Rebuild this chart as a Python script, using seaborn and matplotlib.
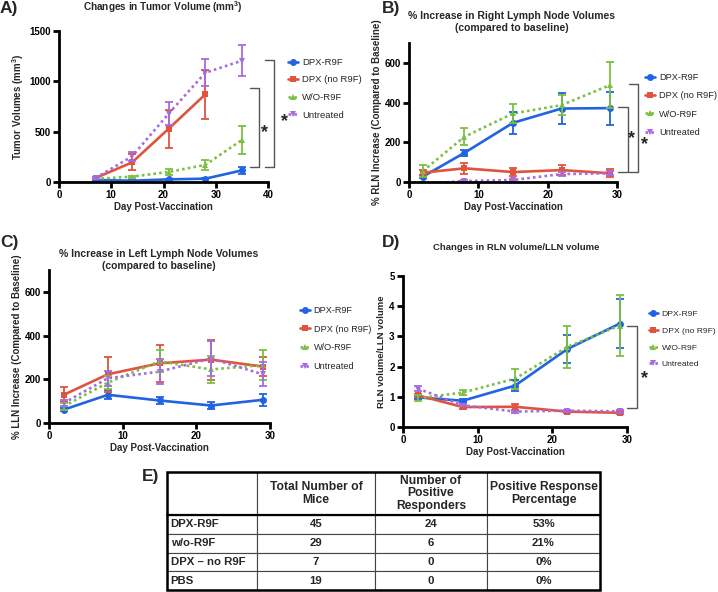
"""Tumor volume and lymph node volume panels with response table"""

import numpy as np
import pandas as pd
import matplotlib
matplotlib.use('Agg')
import matplotlib.pyplot as plt
from matplotlib.table import Table
from matplotlib.patches import Rectangle
import seaborn as sns

sns.set_style('ticks')
plt.rcParams['font.family'] = ['Liberation Sans', 'DejaVu Sans']
plt.rcParams['font.weight'] = 'bold'
plt.rcParams['axes.labelweight'] = 'bold'
plt.rcParams['mathtext.default'] = 'regular'

# ---- data ----
groups = ['DPX-R9F', 'DPX (no R9F)', 'W/O-R9F', 'Untreated']

days_a = [7, 14, 21, 28, 35]
tumor_mean = {
    'DPX-R9F':      [20, 13, 26, 33, 115],
    'DPX (no R9F)': [40, 195, 530, 870, None],
    'W/O-R9F':      [32, 53, 100, 170, 417],
    'Untreated':    [40, 255, 680, 1085, 1205],
}
tumor_err = {
    'DPX-R9F':      [8, 6, 8, 8, 35],
    'DPX (no R9F)': [10, 80, 190, 245, None],
    'W/O-R9F':      [6, 10, 33, 50, 140],
    'Untreated':    [8, 45, 118, 135, 155],
}

days_ln = [2, 8, 15, 22, 29]
rln_mean = {
    'DPX-R9F':      [27, 147, 298, 370, 372],
    'DPX (no R9F)': [47, 69, 50, 60, 44],
    'W/O-R9F':      [55, 228, 345, 387, 488],
    'Untreated':    [-10, 5, 10, 40, 44],
}
rln_err = {
    'DPX-R9F':      [8, 15, 57, 77, 83],
    'DPX (no R9F)': [12, 28, 20, 27, 20],
    'W/O-R9F':      [30, 42, 50, 50, 117],
    'Untreated':    [5, 5, 5, 8, 10],
}

lln_mean = {
    'DPX-R9F':      [61, 129, 103, 80, 106],
    'DPX (no R9F)': [129, 223, 273, 290, 258],
    'W/O-R9F':      [76, 185, 282, 245, 265],
    'Untreated':    [91, 205, 235, 295, 223],
}
lln_err = {
    'DPX-R9F':      [6, 20, 18, 18, 28],
    'DPX (no R9F)': [35, 80, 85, 92, 45],
    'W/O-R9F':      [15, 30, 50, 62, 68],
    'Untreated':    [15, 35, 58, 80, 55],
}

ratio_mean = {
    'DPX-R9F':      [0.98, 0.87, 1.37, 2.58, 3.42],
    'DPX (no R9F)': [1.05, 0.66, 0.67, 0.51, 0.47],
    'W/O-R9F':      [0.95, 1.14, 1.60, 2.65, 3.36],
    'Untreated':    [1.27, 0.72, 0.51, 0.54, 0.52],
}
ratio_err = {
    'DPX-R9F':      [0.05, 0.05, 0.18, 0.47, 0.82],
    'DPX (no R9F)': [0.05, 0.05, 0.10, 0.03, 0.05],
    'W/O-R9F':      [0.10, 0.07, 0.33, 0.68, 1.00],
    'Untreated':    [0.08, 0.04, 0.03, 0.03, 0.05],
}

table_rows = ['DPX-R9F', 'w/o-R9F', 'DPX \u2013 no R9F', 'PBS']
total_mice = [45, 29, 7, 19]
responders = [24, 6, 0, 0]
table_header = ['', 'Total Number of\nMice', 'Number of\nPositive\nResponders',
                'Positive Response\nPercentage']

# ---- styles ----
colors = {'DPX-R9F': '#2263E3', 'DPX (no R9F)': '#E0533F',
          'W/O-R9F': '#7BC043', 'Untreated': '#A56BE0'}
markers = {'DPX-R9F': 'o', 'DPX (no R9F)': 's', 'W/O-R9F': '^', 'Untreated': 'v'}
dashes = {'DPX-R9F': '', 'DPX (no R9F)': '', 'W/O-R9F': (1, 1.2), 'Untreated': (1, 1.2)}

W, H = 718, 592
fig = plt.figure(figsize=(W / 100, H / 100), dpi=100)


def px_rect(left, top, right, bottom):
    return [left / W, 1 - bottom / H, (right - left) / W, (bottom - top) / H]


def draw_panel(ax, days, means, errs, legend_xy, legend_size, legend_spacing):
    rows = []
    for g in groups:
        for d, m, e in zip(days, means[g], errs[g]):
            if m is not None:
                rows.append((g, d, m, e))
    df = pd.DataFrame(rows, columns=['group', 'day', 'value', 'err'])
    sns.lineplot(data=df, x='day', y='value', hue='group', style='group',
                 hue_order=groups, style_order=groups, palette=colors,
                 markers=markers, dashes=dashes, markersize=5,
                 markeredgewidth=0, linewidth=1.9, errorbar=None, ax=ax)
    for g in groups:
        sub = df[df['group'] == g]
        ax.errorbar(sub['day'], sub['value'], yerr=sub['err'], fmt='none',
                    ecolor=colors[g], elinewidth=1.3, capsize=3, capthick=1.3)
    handles, labels = ax.get_legend_handles_labels()
    ax.legend(handles, labels, loc='upper left',
              bbox_to_anchor=(legend_xy[0] / W, 1 - legend_xy[1] / H),
              bbox_transform=fig.transFigure, frameon=False,
              prop={'size': legend_size, 'weight': 'normal'},
              handlelength=1.05, handletextpad=0.45, labelspacing=legend_spacing,
              borderpad=0, borderaxespad=0)
    sns.despine(ax=ax)
    for side in ['left', 'bottom']:
        ax.spines[side].set_linewidth(2)
        ax.spines[side].set_color('black')
    ax.tick_params(width=2, length=4, labelsize=7, colors='black', pad=2)
    for lbl in ax.get_xticklabels() + ax.get_yticklabels():
        lbl.set_fontweight('bold')
    ax.set_xlabel('Day Post-Vaccination', fontsize=7, labelpad=1)


def bracket(ax, x0, x1, y_top, y_bot):
    ax.plot([x0, x1, x1, x0], [y_top, y_top, y_bot, y_bot], color='#555555',
            lw=1, clip_on=False)


# A) tumor volume
ax_a = fig.add_axes(px_rect(59, 31, 268, 182))
draw_panel(ax_a, days_a, tumor_mean, tumor_err, (288, 58), 6.8, 0.9)
ax_a.set_xlim(0, 40)
ax_a.set_ylim(0, 1500)
ax_a.set_xticks([0, 10, 20, 30, 40])
ax_a.set_yticks([0, 500, 1000, 1500])
ax_a.set_ylabel('Tumor Volumes (mm$^3$)', fontsize=7, labelpad=2)
bracket(ax_a, 36.6, 38.3, 930, 146)
bracket(ax_a, 39.4, 41.1, 1212, 146)
ax_a.text(39.4, 490, '*', fontsize=13, ha='center', va='center', clip_on=False)
ax_a.text(43.1, 600, '*', fontsize=13, ha='center', va='center', clip_on=False)

# B) right lymph node
ax_b = fig.add_axes(px_rect(409, 43, 617, 182))
draw_panel(ax_b, days_ln, rln_mean, rln_err, (645, 73), 6.7, 1.0)
ax_b.set_xlim(0, 30)
ax_b.set_ylim(0, 700)
ax_b.set_xticks([0, 10, 20, 30])
ax_b.set_yticks([0, 200, 400, 600])
ax_b.set_ylabel('% RLN Increase (Compared to Baseline)', fontsize=7, labelpad=2)
bracket(ax_b, 30.2, 31.6, 379, 49)
bracket(ax_b, 31.8, 33.1, 496, 49)
ax_b.text(32.1, 220, '*', fontsize=13, ha='center', va='center', clip_on=False)
ax_b.text(34.0, 186, '*', fontsize=13, ha='center', va='center', clip_on=False)

# C) left lymph node
ax_c = fig.add_axes(px_rect(49, 270, 270, 423))
draw_panel(ax_c, days_ln, lln_mean, lln_err, (300, 306), 6.6, 1.05)
ax_c.set_xlim(0, 30)
ax_c.set_ylim(0, 700)
ax_c.set_xticks([0, 10, 20, 30])
ax_c.set_yticks([0, 200, 400, 600])
ax_c.set_ylabel('% LLN Increase (Compared to Baseline)', fontsize=7, labelpad=2)

# D) RLN / LLN ratio
ax_d = fig.add_axes(px_rect(403, 276, 627, 427))
draw_panel(ax_d, days_ln, ratio_mean, ratio_err, (649, 310), 6.1, 1.05)
ax_d.set_xlim(0, 30)
ax_d.set_ylim(0, 5)
ax_d.set_xticks([0, 10, 20, 30])
ax_d.set_yticks([0, 1, 2, 3, 4, 5])
ax_d.set_ylabel('RLN volume/LLN volume', fontsize=6.8, labelpad=2)
bracket(ax_d, 30.0, 31.3, 3.33, 0.62)
ax_d.text(32.4, 1.6, '*', fontsize=13, ha='center', va='center', clip_on=False)

# titles and panel letters
fig.text(163 / W, 1 - 7 / H, 'Changes in Tumor Volume (mm$^3$)', fontsize=7.2,
         ha='center', va='center')
fig.text(512 / W, 1 - 22 / H, '% Increase in Right Lymph Node Volumes\n(compared to baseline)',
         fontsize=7.5, ha='center', va='center', linespacing=1.15)
fig.text(159 / W, 1 - 260 / H, '% Increase in Left Lymph Node Volumes\n(compared to baseline)',
         fontsize=7.5, ha='center', va='center', linespacing=1.15)
fig.text(516 / W, 1 - 248 / H, 'Changes in RLN volume/LLN volume', fontsize=6.8,
         ha='center', va='center')
for letter, (lx, ly) in {'A)': (0, 8), 'B)': (382, 8), 'C)': (0, 242),
                         'D)': (382, 242), 'E)': (142, 477)}.items():
    fig.text(lx / W, 1 - ly / H, letter, fontsize=12.5, ha='left', va='center')

# E) table
ax_t = fig.add_axes(px_rect(167, 472, 600, 590))
ax_t.axis('off')
col_w = np.array([90, 118, 112, 113], dtype=float)
col_w = col_w / col_w.sum()
head_h = 43 / 118
row_h = (1 - head_h) / len(table_rows)
tbl = Table(ax_t, bbox=[0, 0, 1, 1])
for c, txt in enumerate(table_header):
    tbl.add_cell(0, c, width=col_w[c], height=head_h, text=txt, loc='center')
for r, name in enumerate(table_rows, start=1):
    pct = f'{round(100 * responders[r - 1] / total_mice[r - 1])}%'
    vals = [name, str(total_mice[r - 1]), str(responders[r - 1]), pct]
    for c, txt in enumerate(vals):
        tbl.add_cell(r, c, width=col_w[c], height=row_h, text=txt,
                     loc='left' if c == 0 else 'center')
tbl.auto_set_font_size(False)
for (r, c), cell in tbl.get_celld().items():
    cell.set_edgecolor('#444444')
    cell.set_linewidth(0.8)
    cell.get_text().set_fontweight('bold')
    cell.get_text().set_fontsize(8.7 if r == 0 else 8.2)
    cell.get_text().set_linespacing(1.1)
    if c == 0:
        cell.PAD = 0.04
ax_t.add_table(tbl)
ax_t.add_patch(Rectangle((0, 0), 1, 1, fill=False, lw=1.8, edgecolor='black',
                         transform=ax_t.transAxes, clip_on=False))
ax_t.plot([0, 1], [1 - head_h, 1 - head_h], color='black', lw=1.6,
          transform=ax_t.transAxes, clip_on=False)

fig.savefig('out.png', dpi=100)
